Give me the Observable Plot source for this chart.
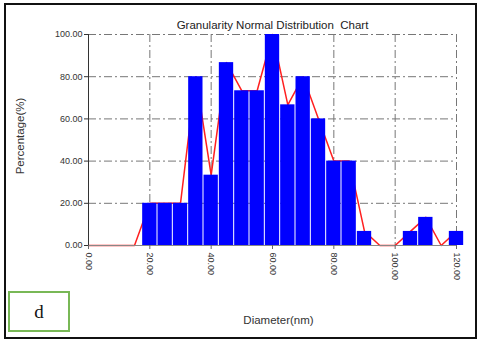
<!DOCTYPE html>
<html>
<head>
<meta charset="utf-8">
<script src="https://cdn.jsdelivr.net/npm/d3@7"></script>
<script src="https://cdn.jsdelivr.net/npm/@observablehq/plot@0.6"></script>
<style>
  html, body { margin: 0; padding: 0; background: #fff; }
  #wrap { position: relative; width: 480px; height: 344px; overflow: hidden; }
  #wrap svg { position: absolute; left: 0; top: 0; }
  #border { position: absolute; left: 4px; top: 3px; width: 469px; height: 332px; border: 2px solid #111; }
  #dbox { position: absolute; left: 8px; top: 291px; width: 58px; height: 37px; border: 2px solid #78b856;
          font-family: "Liberation Serif", "Times New Roman", serif; font-size: 19px; color: #111;
          display: flex; align-items: center; justify-content: center; }
</style>
</head>
<body>
<div id="wrap">
  <div id="border"></div>
  <div id="dbox">d</div>
</div>
<script>
// Bin centres (nm) and percentage of the tallest bin
const diameters   = [0, 5, 10, 15, 20, 25, 30, 35, 40, 45, 50, 55, 60, 65, 70, 75, 80, 85, 90, 95, 100, 105, 110, 115, 120];
const percentages = [0, 0, 0, 0, 20, 20, 20, 80, 33.33, 86.67, 73.33, 73.33, 100, 66.67, 80, 60, 40, 40, 6.67, 0, 0, 6.67, 13.33, 0, 6.67];
const binWidth = 5;
const xTicks = [0, 20, 40, 60, 80, 100, 120];
const yTicks = [0, 20, 40, 60, 80, 100];
const titleText = "Granularity Normal Distribution  Chart";
const xLabel = "Diameter(nm)";
const yLabel = "Percentage(%)";

const data = diameters.map((d, i) => ({diameter: d, pct: percentages[i]}));
const bars = data.filter(d => d.pct > 0);

const font = "Liberation Sans, Arial, sans-serif";
const dashDot = "8,3,2,3";

const chart = Plot.plot({
  width: 480,
  height: 344,
  marginLeft: 88,
  marginRight: 24,
  marginTop: 34,
  marginBottom: 99,
  style: {fontFamily: font, fontSize: "9px", color: "#333", background: "transparent"},
  x: {domain: [0, 120]},
  y: {domain: [0, 100]},
  marks: [
    Plot.gridX(xTicks.filter(t => t > 0), {stroke: "#777", strokeOpacity: 1, strokeDasharray: dashDot, strokeWidth: 1}),
    Plot.gridY(yTicks.filter(t => t > 0), {stroke: "#777", strokeOpacity: 1, strokeDasharray: dashDot, strokeWidth: 1}),
    Plot.line(data, {x: "diameter", y: "pct", stroke: "#ff2020", strokeWidth: 1.5}),
    Plot.rectY(bars, {
      x1: d => d.diameter - binWidth / 2,
      x2: d => d.diameter + binWidth / 2,
      y: "pct",
      fill: "#0000ff",
      insetLeft: 0.5,
      insetRight: 0.5
    }),
    Plot.ruleY([0], {stroke: "#888", strokeWidth: 1}),
    Plot.ruleX([0], {stroke: "#333", strokeWidth: 1}),
    Plot.axisY(yTicks, {tickFormat: d3.format(".2f"), tickSize: 4, tickPadding: 2, label: null, stroke: "#333", fill: "#333", fontSize: 9}),
    Plot.axisX(xTicks, {tickFormat: d3.format(".2f"), tickSize: 4, tickPadding: 3, tickRotate: 90, label: null, stroke: "#666", fill: "#333", fontSize: 9}),
    Plot.text([titleText], {frameAnchor: "top", dy: -6, lineAnchor: "bottom", text: d => d, fontSize: 11.5, fill: "#222"}),
    Plot.text([xLabel], {frameAnchor: "bottom", dx: 6, dy: 78, text: d => d, fontSize: 11.5, fill: "#333"}),
    Plot.text([yLabel], {frameAnchor: "left", textAnchor: "middle", dx: -68, dy: -4, rotate: -90, text: d => d, fontSize: 11.5, fill: "#333"})
  ]
});

document.getElementById("wrap").prepend(chart);
</script>
</body>
</html>
